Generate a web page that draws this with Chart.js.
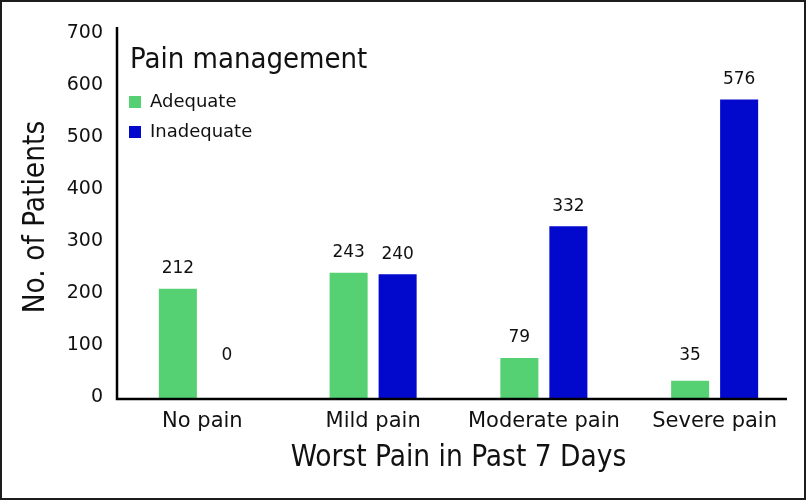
<!DOCTYPE html>
<html>
<head>
<meta charset="utf-8">
<script src="https://cdn.jsdelivr.net/npm/chart.js@4.4.1/dist/chart.umd.min.js"></script>
<style>
  html, body { margin: 0; padding: 0; background: #fff; }
  .frame { width: 806px; height: 500px; box-sizing: border-box; border: 2px solid #1c1c1c; background: #fff; }
  .wrap { position: relative; width: 802px; height: 496px; }
</style>
</head>
<body>
<div class="frame"><div class="wrap"><canvas id="chart-pain"></canvas></div></div>
<script>
// Worst pain in past 7 days vs. adequacy of pain management
const categories = ["No pain", "Mild pain", "Moderate pain", "Severe pain"];
const adequate = [212, 243, 79, 35];
const inadequate = [0, 240, 332, 576];
const seriesNames = ["Adequate", "Inadequate"];
const legendTitle = "Pain management";
const yTitle = "No. of Patients";
const xTitle = "Worst Pain in Past 7 Days";
const yMax = 700;
const yStep = 100;

const sansFont = "'DejaVu Sans', sans-serif";
const narrowFont = "'Liberation Sans Narrow', 'DejaVu Sans Condensed', sans-serif";
const ink = "#111";

// axis lines: y runs a little past the top tick, x stops short of the last band
const axisLines = {
  id: "axisLines",
  afterDatasetsDraw(chart) {
    const { ctx, chartArea: a } = chart;
    ctx.save();
    ctx.strokeStyle = "#000";
    ctx.lineWidth = 2.5;
    ctx.beginPath();
    ctx.moveTo(a.left, a.top - 8);
    ctx.lineTo(a.left, a.bottom);
    ctx.lineTo(a.right - 13, a.bottom);
    ctx.stroke();
    ctx.restore();
  },
};

// value labels above each bar
const valueLabels = {
  id: "valueLabels",
  afterDatasetsDraw(chart) {
    const { ctx } = chart;
    ctx.save();
    ctx.font = "17px " + sansFont;
    ctx.fillStyle = ink;
    ctx.textAlign = "center";
    ctx.textBaseline = "middle";
    chart.data.datasets.forEach((ds, di) => {
      chart.getDatasetMeta(di).data.forEach((bar, i) => {
        const top = Math.min(bar.y, bar.base - 23);
        ctx.fillText(String(ds.data[i]), bar.x, top - 20);
      });
    });
    ctx.restore();
  },
};

// legend sits inside the plot, under its own title
// (vertical legends get top = 0 in chartArea mode, so place it from the chart area)
const legendPlacement = {
  id: "legendPlacement",
  afterLayout(chart) {
    const lg = chart.legend;
    if (!lg) return;
    lg.top = chart.chartArea.top + 46;
    lg.bottom = lg.top + lg.height;
  },
  afterDraw(chart) {
    const lg = chart.legend;
    if (!lg) return;
    const { ctx } = chart;
    ctx.save();
    ctx.font = "29px " + narrowFont;
    ctx.fillStyle = ink;
    ctx.textAlign = "left";
    ctx.textBaseline = "alphabetic";
    ctx.fillText(legendTitle, lg.left + lg.options.labels.padding + 1, lg.top - 13);
    ctx.restore();
  },
};

new Chart(document.getElementById("chart-pain"), {
  type: "bar",
  data: {
    labels: categories,
    datasets: [
      {
        label: seriesNames[0],
        data: adequate,
        backgroundColor: "#55d174",
        borderWidth: 0,
        categoryPercentage: 0.574,
        barPercentage: 0.776,
      },
      {
        label: seriesNames[1],
        data: inadequate,
        backgroundColor: "#0208cc",
        borderWidth: 0,
        categoryPercentage: 0.574,
        barPercentage: 0.776,
      },
    ],
  },
  options: {
    responsive: true,
    maintainAspectRatio: false,
    animation: false,
    layout: { padding: { top: 33, right: 4, left: 0, bottom: 0 } },
    plugins: {
      tooltip: { enabled: false },
      legend: {
        position: "chartArea",
        align: "start",
        labels: {
          boxWidth: 12,
          boxHeight: 12,
          padding: 12,
          color: ink,
          font: { family: sansFont, size: 18 },
        },
      },
    },
    scales: {
      x: {
        grid: { display: false, drawTicks: false },
        border: { display: false },
        ticks: { color: ink, padding: 10, font: { family: sansFont, size: 21 } },
        title: {
          display: true,
          text: xTitle,
          color: ink,
          font: { family: narrowFont, size: 29.5 },
          padding: { top: 0, bottom: 22 },
        },
        afterFit(scale) { scale.height = 99; },
      },
      y: {
        min: 0,
        max: yMax,
        grid: { display: false, drawTicks: false },
        border: { display: false },
        ticks: {
          stepSize: yStep,
          color: ink,
          padding: 14,
          labelOffset: -2,
          font: { family: sansFont, size: 19 },
        },
        title: {
          display: true,
          text: yTitle,
          color: ink,
          font: { family: narrowFont, size: 29.5 },
          padding: { top: 17, bottom: 0 },
        },
        afterFit(scale) { scale.width = 115; },
      },
    },
  },
  plugins: [axisLines, valueLabels, legendPlacement],
});
</script>
</body>
</html>
